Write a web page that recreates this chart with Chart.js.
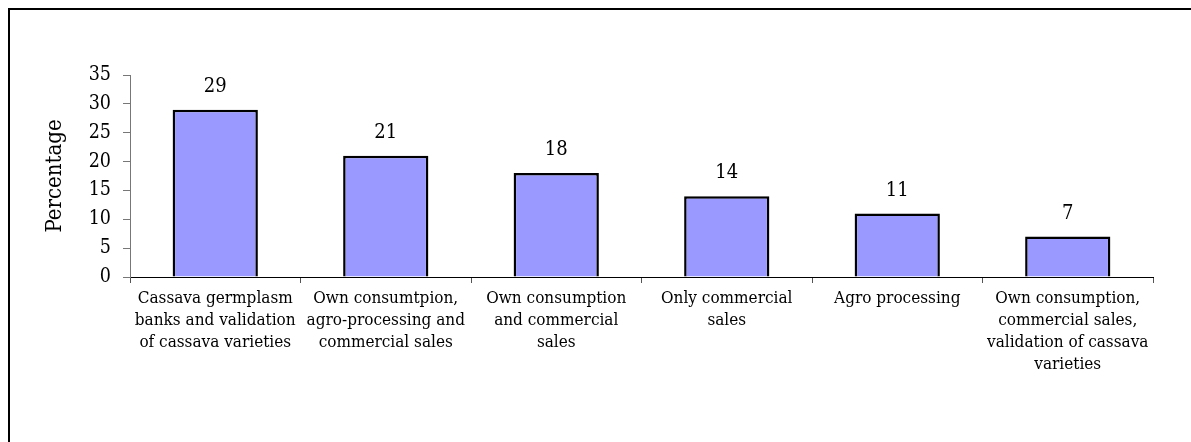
<!DOCTYPE html>
<html>
<head>
<meta charset="utf-8">
<script src="https://cdn.jsdelivr.net/npm/chart.js@4"></script>
<style>
  body { margin: 0; background: #fff; }
  #wrap { position: relative; width: 1191px; height: 442px; }
  #frame {
    position: absolute; left: 8px; top: 8px; right: 0; bottom: 0;
    border-top: 2px solid #000; border-left: 2px solid #000;
    pointer-events: none;
  }
</style>
</head>
<body>
<div id="wrap">
  <canvas id="uses" width="1191" height="442"></canvas>
  <div id="frame"></div>
</div>
<script>
// --- DATA ---
const categories = [
  ["Cassava germplasm", "banks and validation", "of cassava varieties"],
  ["Own consumtpion,", "agro-processing and", "commercial sales"],
  ["Own consumption", "and commercial", "sales"],
  ["Only commercial", "sales"],
  ["Agro processing"],
  ["Own consumption,", "commercial sales,", "validation of cassava", "varieties"],
];
const percentages = [29, 21, 18, 14, 11, 7];
const yTicks = [0, 5, 10, 15, 20, 25, 30, 35];

const FONT = '"DejaVu Serif Condensed", "DejaVu Serif", serif';

// value printed above every bar
const barValues = {
  id: "barValues",
  afterDatasetsDraw(chart) {
    const ctx = chart.ctx;
    const meta = chart.getDatasetMeta(0);
    ctx.save();
    ctx.font = `20px ${FONT}`;
    ctx.fillStyle = "#000";
    ctx.textAlign = "center";
    ctx.textBaseline = "middle";
    meta.data.forEach((bar, i) => {
      ctx.fillText(String(percentages[i]), bar.x, bar.y - 23);
    });
    ctx.restore();
  },
};

new Chart(document.getElementById("uses"), {
  type: "bar",
  data: {
    labels: categories,
    datasets: [
      {
        data: percentages,
        backgroundColor: "#9999FF",
        borderColor: "#000",
        borderWidth: 2.5,
        barPercentage: 0.5,
        categoryPercentage: 1,
      },
    ],
  },
  options: {
    responsive: false,
    animation: false,
    events: [],
    layout: { padding: { left: 40, top: 75, right: 38, bottom: 0 } },
    plugins: { legend: { display: false }, tooltip: { enabled: false } },
    scales: {
      x: {
        afterFit: (scale) => { scale.height = 165; },
        border: { color: "#000", width: 1 },
        grid: {
          offset: true,
          drawOnChartArea: false,
          color: "#555",
          tickLength: 6,
        },
        ticks: {
          maxRotation: 0,
          autoSkip: false,
          padding: 5,
          color: "#000",
          font: { family: FONT, size: 17, lineHeight: 1.28 },
        },
      },
      y: {
        min: 0,
        max: 35,
        afterFit: (scale) => { scale.width = 90; },
        afterBuildTicks: (scale) => {
          scale.ticks = yTicks.map((v) => ({ value: v }));
        },
        border: { color: "#777", width: 1 },
        grid: { drawOnChartArea: false, color: "#777", tickLength: 7 },
        ticks: {
          padding: 12,
          color: "#000",
          font: { family: FONT, size: 19.5 },
        },
        title: {
          display: true,
          text: "Percentage",
          color: "#000",
          padding: { top: 2, bottom: 0 },
          font: { family: FONT, size: 22, lineHeight: 1.2 },
        },
      },
    },
  },
  plugins: [barValues],
});
</script>
</body>
</html>
